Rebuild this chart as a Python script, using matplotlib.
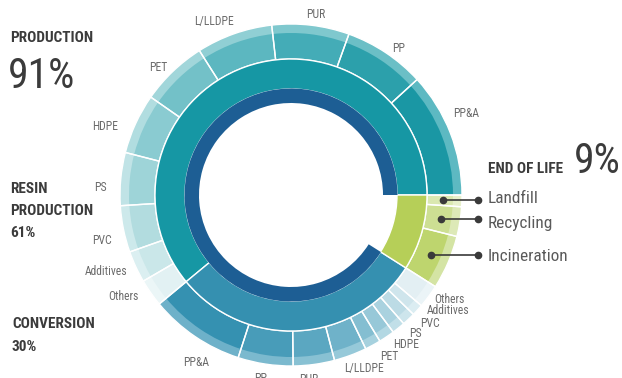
import matplotlib
matplotlib.use("Agg")
import matplotlib.pyplot as plt
from matplotlib import font_manager as fm
import numpy as np

# pick a narrow sans face if one is installed
def pick_family():
    for fam in ['Roboto Condensed', 'Liberation Sans Narrow', 'Open Sans Condensed',
                'Noto Sans Condensed', 'DejaVu Sans Condensed']:
        try:
            fm.findfont(fm.FontProperties(family=fam), fallback_to_default=False)
            return fam, 'normal', 1.0
        except Exception:
            pass
    path = fm.findfont(fm.FontProperties(family='DejaVu Sans', stretch='condensed'))
    if 'Condensed' in path:
        return 'DejaVu Sans', 'condensed', 1.0
    return 'DejaVu Sans', 'normal', 0.78

FAMILY, STRETCH, SCALE = pick_family()
plt.rcParams['font.family'] = [FAMILY, 'DejaVu Sans']
plt.rcParams['font.stretch'] = STRETCH

# ---- data (shares of the total life cycle, %) ----
stage_vals = [91, 9]                      # production vs end of life
phase_names = ['Resin production', 'Conversion', 'End of life']
phase_vals = [61, 30, 9]

materials = ['PP&A', 'PP', 'PUR', 'L/LLDPE', 'PET', 'HDPE', 'PS', 'PVC', 'Additives', 'Others']
resin_vals = [11.8, 7.7, 7.3, 7.2, 6.3, 5.7, 5.0, 4.4, 3.0, 2.6]
conv_vals = [9.0, 5.2, 3.9, 3.1, 1.5, 1.5, 1.25, 1.25, 1.1, 2.2]

eol_names = ['Incineration', 'Recycling', 'Landfill']
eol_vals = [5.1, 2.8, 1.1]

# ---- colours ----
dark_blue = '#1d5e94'
phase_colors = ['#1697a4', '#3590b0', '#b6cf58']
resin_main = ['#1a97a4', '#2ca0ab', '#44acb7', '#5cb7c0', '#73c1c8', '#8acbd1',
              '#9ed4d8', '#b2dcdf', '#cae7e9', '#e2f1f3']
resin_rim = ['#5db9c2', '#6bbfc6', '#7fc8ce', '#90cfd4', '#a1d6da', '#b1dde0',
             '#c0e3e6', '#cde9eb', '#dbeff1', '#ebf6f7']
conv_main = ['#3591b1', '#489cb9', '#5ba7c1', '#6fb2c9', '#84bed1', '#97c8d8',
             '#aad2df', '#bcdbe5', '#cfe5ec', '#e3eff3']
conv_rim = ['#6eb1c9', '#7bb9ce', '#88c1d3', '#96c9d9', '#a6d1de', '#b3d8e3',
            '#c1dfe8', '#cde5ec', '#dbedf2', '#ebf4f7']
eol_main = ['#bed56e', '#cddf93', '#dae8b0']
eol_rim = ['#d4e4a4', '#dde9b7', '#e7f0cb']

W, H = 622, 378
fig = plt.figure(figsize=(W / 100, H / 100), dpi=100)
ax = fig.add_axes([0, 0, 1, 1])

cx, cy = 291, H - 195
center = (cx, cy)
r_dark_in, r_dark_out = 92, 106.5
r_mid_in, r_mid_out = 106, 136
r_rim_out = 171
r_main_out = 162

outer_vals = resin_vals + conv_vals + eol_vals
outer_main = resin_main + conv_main + eol_main
outer_rim = resin_rim + conv_rim + eol_rim

common = dict(startangle=0, counterclock=True, center=center, frame=True)

# outer ring: light rim, main band, then white separators on top
ax.pie(outer_vals, radius=r_rim_out, colors=outer_rim,
       wedgeprops=dict(width=r_rim_out - r_mid_out, edgecolor='none', linewidth=0), **common)
ax.pie(outer_vals, radius=r_main_out, colors=outer_main,
       wedgeprops=dict(width=r_main_out - r_mid_out, edgecolor='none', linewidth=0), **common)
ax.pie(outer_vals, radius=r_rim_out, colors=['none'] * len(outer_vals),
       wedgeprops=dict(width=r_rim_out - r_mid_out, edgecolor='white', linewidth=1.0), **common)

# middle ring: production phases
ax.pie(phase_vals, radius=r_mid_out, colors=phase_colors,
       wedgeprops=dict(width=r_mid_out - r_mid_in, edgecolor='white', linewidth=1.0), **common)

# inner ring: production share only
ax.pie(stage_vals, radius=r_dark_out, colors=[dark_blue, 'none'],
       wedgeprops=dict(width=r_dark_out - r_dark_in, edgecolor='none', linewidth=0), **common)

ax.set_xlim(0, W)
ax.set_ylim(0, H)
ax.set_aspect('equal')
ax.axis('off')

def fs(size):
    return size * SCALE

# ---- segment labels ----
lab_col = '#6b6b6b'
lab_size = fs(8.4)
resin_label_pos = [(466, 117), (399, 52), (316, 18), (214, 25), (158, 71),
                   (105, 130), (100, 191), (102, 244), (106, 275), (123, 300)]
conv_label_pos = [(196, 366), (261, 382), (309, 383), (364, 372), (389, 360),
                  (406, 348), (415, 337), (430, 327), (448, 314), (449, 303)]
for name, (x, y) in zip(materials, resin_label_pos):
    ax.text(x, H - y, name, ha='center', va='baseline', fontsize=lab_size, color=lab_col)
for name, (x, y) in zip(materials, conv_label_pos):
    ax.text(x, H - y, name, ha='center', va='baseline', fontsize=lab_size, color=lab_col)

# ---- headline texts ----
title_col = '#3b3b3b'
tsz = fs(11)
ax.text(10, H - 42, 'PRODUCTION', fontsize=tsz, fontweight='bold', color=title_col, va='baseline')
ax.text(8, H - 88, f'{stage_vals[0]}%', fontsize=fs(30), color=title_col, va='baseline')
ax.text(10, H - 193, 'RESIN', fontsize=tsz, fontweight='bold', color=title_col, va='baseline')
ax.text(10, H - 215, 'PRODUCTION', fontsize=tsz, fontweight='bold', color=title_col, va='baseline')
ax.text(10, H - 237, f'{phase_vals[0]}%', fontsize=tsz, fontweight='bold', color=title_col, va='baseline')
ax.text(12, H - 328, 'CONVERSION', fontsize=tsz, fontweight='bold', color=title_col, va='baseline')
ax.text(12, H - 351, f'{phase_vals[1]}%', fontsize=tsz, fontweight='bold', color=title_col, va='baseline')
ax.text(488, H - 173, 'END OF LIFE', fontsize=fs(11), fontweight='bold', color=title_col, va='baseline')
ax.text(621, H - 173, f'{stage_vals[1]}%', fontsize=fs(30), color=title_col, va='baseline', ha='right')

# ---- end-of-life callouts ----
starts = np.cumsum([0] + outer_vals)
n_before = len(resin_vals) + len(conv_vals)
eol_baselines = [261, 228, 203]
for i, (name, base) in enumerate(zip(eol_names, eol_baselines)):
    a0 = starts[n_before + i] / 100 * 360
    a1 = starts[n_before + i + 1] / 100 * 360
    mid = np.deg2rad((a0 + a1) / 2)
    px = cx + 152 * np.cos(mid)
    py = cy + 152 * np.sin(mid)
    ax.plot([px, 478], [py, py], color='#3a3a3a', lw=1.2, solid_capstyle='butt')
    ax.plot([px, 478], [py, py], 'o', color='#3a3a3a', ms=4.5)
    ax.text(488, H - base, name, fontsize=fs(12.4), color='#5a5a5a', va='baseline')

fig.savefig('out.png', dpi=100)
